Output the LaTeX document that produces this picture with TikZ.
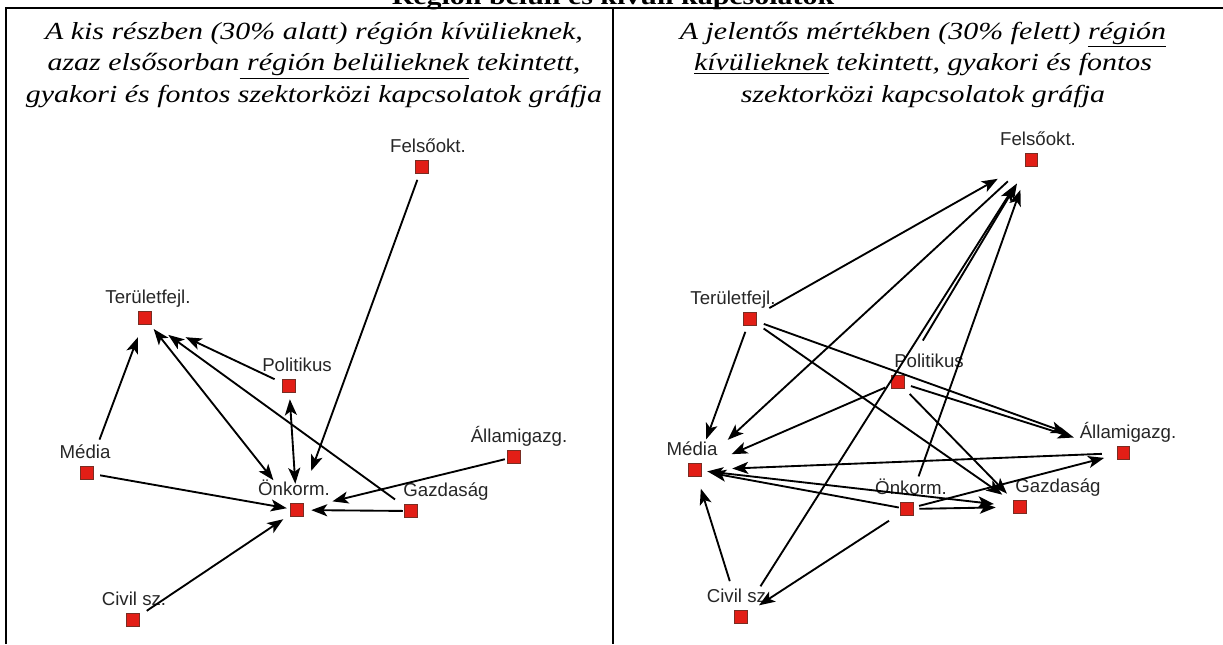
\documentclass[tikz,border=0pt]{standalone}
\usepackage{fontspec}
\setmainfont{Liberation Serif}
\newfontfamily\capfont[FakeStretch=1.22]{Liberation Serif}
\newfontfamily\lblfont{Liberation Sans}
\usetikzlibrary{arrows.meta}

\newdimen\upx \upx=0.75pt
\definecolor{sqred}{RGB}{226,30,22}
\definecolor{sqedge}{RGB}{120,45,35}

\tikzset{
  vtx/.style={rectangle, draw=sqedge, fill=sqred, line width=0.4pt,
    minimum size=12.5\upx, inner sep=0pt, outer sep=0pt},
  lbl/.style={font=\lblfont\fontsize{14}{16}\selectfont, text=black!85,
    inner sep=0pt, text depth=0pt},
  captext/.style={font=\capfont\itshape\fontsize{18.4}{23.4}\selectfont,
    align=center, anchor=base, inner sep=0pt},
  sh/.style 2 args={shorten <=#1\upx, shorten >=#2\upx},
  >={Stealth[length=12pt,width=9pt,inset=3pt]}
}

\begin{document}
\begin{tikzpicture}[x=0.75pt, y=-0.75pt, label distance=8\upx]
  \useasboundingbox (0,0) rectangle (1223,644);

  % table
  \node[font=\capfont\bfseries\fontsize{18.4}{23.4}\selectfont, anchor=base, inner sep=0pt]
    (title) at (613,4) {Régión belüli és kívüli kapcsolatok};
  \draw[line width=1.5pt] (6,644) -- (6,7.5) -- (1240,7.5);
  \draw[line width=1.5pt] (613,7.5) -- (613,644);

  % base = last line
  \node[captext] (lcap) at (314,102) {A kis részben (30\% alatt) régión kívülieknek,\\
    azaz elsősorban\underline{ régión belülieknek} tekintett,\\
    gyakori és fontos szektorközi kapcsolatok gráfja};
  \node[captext] (rcap) at (923,102) {A jelentős mértékben (30\% felett) \underline{régión}\\
    \underline{kívülieknek} tekintett, gyakori és fontos\\
    szektorközi kapcsolatok gráfja};

  % left graph
  \node[vtx, label={[lbl, xshift=6\upx]above:Felsőokt.}]    (lfel) at (422,167) {};
  \node[vtx, label={[lbl, xshift=3\upx]above:Területfejl.}] (lter) at (145,318) {};
  \node[vtx, label={[lbl, xshift=8\upx]above:Politikus}]    (lpol) at (289,386) {};
  \node[vtx, label={[lbl, xshift=-2\upx]above:Média}]       (lmed) at (87,473)  {};
  \node[vtx, label={[lbl, xshift=5\upx]above:Államigazg.}]  (llam) at (514,457) {};
  \node[vtx, label={[lbl, xshift=-3\upx]above:Önkorm.}]     (lonk) at (297,510) {};
  \node[vtx, label={[lbl, xshift=35\upx]above:Gazdaság}]    (lgaz) at (411,511) {};
  \node[vtx, label={[lbl, xshift=1\upx]above:Civil sz.}]    (lciv) at (133,620) {};

  % right graph
  \node[vtx, label={[lbl, xshift=7\upx]above:Felsőokt.}]     (rfel) at (1031,160) {};
  \node[vtx, label={[lbl, xshift=-17\upx]above:Területfejl.}] (rter) at (750,319)  {};
  \node[vtx, label={[lbl, xshift=31\upx]above:Politikus}]    (rpol) at (898,382)  {};
  \node[vtx, label={[lbl, xshift=-3\upx]above:Média}]        (rmed) at (695,470)  {};
  \node[vtx, label={[lbl, xshift=5\upx]above:Államigazg.}]   (rall) at (1123,453) {};
  \node[vtx, label={[lbl, xshift=4\upx]above:Önkorm.}]       (ronk) at (907,509)  {};
  \node[vtx, label={[lbl, xshift=38\upx]above:Gazdaság}]     (rgaz) at (1020,507) {};
  \node[vtx, label={[lbl, xshift=-2\upx]above:Civil sz.}]    (rciv) at (741,617)  {};

  \begin{scope}[every edge/.style={draw, line width=1.4pt, ->}]
    \path (lfel) edge[sh={7}{35}]  (lonk);
    \path (lmed) edge[sh={29}{14}] (lter);
    \path (lter) edge[<->, sh={6}{30}] (lonk);
    \path (lgaz) edge[sh={12}{21}] (lter);
    \path (lpol) edge[sh={9}{38}]  (lter);
    \path (lpol) edge[<->, sh={7}{20}] (lonk);
    \path (llam) edge[sh={3}{30}]  (lonk);
    \path (lmed) edge[sh={7}{4}]   (lonk);
    \path (lgaz) edge[sh={2}{8}]   (lonk);
    \path (lciv) edge[sh={9}{9}]   (lonk);

    \path (rter) edge[sh={15}{31}] (rfel);
    \path (rter) edge[sh={7}{26}]  (rmed);
    \path (rter) edge[sh={8}{53}]  (rall);
    \path (rter) edge[sh={9}{14}]  (rgaz);
    \path (rpol) edge[sh={41}{20}] (rfel);
    \path (rpol) edge[sh={7}{33}]  (rmed);
    \path (rpol) edge[sh={7}{45}]  (rall);
    \path (rpol) edge[sh={8}{10}]  (rgaz);
    \path (rfel) edge[sh={23}{36}] (rmed);
    \path (rciv) edge[sh={29}{23}] (rfel);
    \path (rciv) edge[sh={31}{13}] (rmed);
    \path (ronk) edge[sh={28}{25}] (rfel);
    \path (ronk) edge[sh={2}{9}]   (rmed);
    \path (ronk) edge[sh={6}{18}]  (rgaz);
    \path (ronk) edge[sh={6}{13}]  (rall);
    \path (ronk) edge[sh={14}{14}] (rciv);
    \path (rall) edge[sh={15}{31}] (rmed);
    \path (rmed) edge[<->, sh={6}{20}] (rgaz);
  \end{scope}

\end{tikzpicture}
\end{document}
